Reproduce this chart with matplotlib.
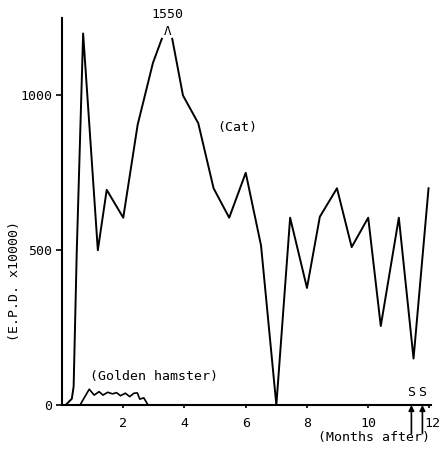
import matplotlib
matplotlib.use('Agg')
import matplotlib.pyplot as plt
import numpy as np

# Cat series (months after, E.P.D. x10000); the peak is drawn broken
cat_months = [0.12, 0.32, 0.38, 0.48, 0.69, 1.17, 1.46, 2.0, 2.47, 2.97, 3.26,
              np.nan, 3.6, 3.95, 4.45, 4.95, 5.46, 6.0, 6.5, 7.0, 7.45, 8.0,
              8.42, 8.98, 9.46, 10.0, 10.41, 11.0, 11.48, 11.97]
cat_values = [0, 20, 60, 490, 1200, 500, 695, 605, 905, 1105, 1183,
              np.nan, 1183, 1000, 910, 700, 605, 750, 515, 0, 605, 378,
              608, 700, 510, 605, 255, 605, 150, 700]
cat_peak_month = 3.45
cat_peak_value = 1550

# Golden hamster series
hamster_months = [0.59, 0.89, 1.05, 1.21, 1.34, 1.49, 1.65, 1.78, 1.91, 2.07,
                  2.21, 2.35, 2.46, 2.54, 2.67, 2.81]
hamster_values = [0, 51, 32, 43, 32, 41, 36, 40, 30, 38, 27, 38, 39, 19, 23, 0]

# sacrifice points (S)
sacrifice_months = [11.41, 11.77]

x_ticks = [2, 4, 6, 8, 10, 12]
y_ticks = [0, 500, 1000]

font = 'DejaVu Sans Mono'
plt.rcParams['font.family'] = font
plt.rcParams['font.size'] = 9.5

fig = plt.figure(figsize=(4.41, 4.57), dpi=100)
ax = fig.add_axes([0.1406, 0.1138, 0.8367, 0.8468])

ax.plot(cat_months, cat_values, color='black', lw=1.4)
ax.plot(hamster_months, hamster_values, color='black', lw=1.2)

# broken peak marker
ax.text(cat_peak_month, 1185, 'Λ', ha='center', va='bottom', fontsize=9,
        clip_on=False)
ax.text(cat_peak_month, 1240, str(cat_peak_value), ha='center', va='bottom',
        clip_on=False)

ax.text(5.72, 896, '(Cat)', ha='center', va='center')
ax.text(3.0, 91, '(Golden hamster)', ha='center', va='center')

for m in sacrifice_months:
    ax.text(m, 18, 'S', ha='center', va='bottom')
    ax.annotate('', xy=(m, 0), xytext=(m, -92),
                arrowprops=dict(arrowstyle='-|>', color='black', lw=1.2,
                                mutation_scale=8, shrinkA=0, shrinkB=0),
                annotation_clip=False)

ax.set_xlim(0, 12.05)
ax.set_ylim(0, 1250)
ax.set_xticks(x_ticks)
ax.set_xticklabels([str(t) if t != 12 else '' for t in x_ticks])
ax.text(12.1, -60, '12', ha='center', va='center', clip_on=False)
ax.set_yticks(y_ticks)

for side in ['top', 'right']:
    ax.spines[side].set_visible(False)
for side in ['left', 'bottom']:
    ax.spines[side].set_linewidth(1.5)

ax.tick_params(axis='y', direction='out', length=4, width=1.2, pad=3)
ax.tick_params(axis='x', direction='out', length=2.5, width=1.2, pad=6)

ax.text(-0.128, 0.32, '(E.P.D. x10000)', rotation=90, ha='center',
        va='center', transform=ax.transAxes)
ax.text(10.2, -105, '(Months after)', ha='center', va='center',
        clip_on=False)

fig.savefig('out.png', dpi=100)
